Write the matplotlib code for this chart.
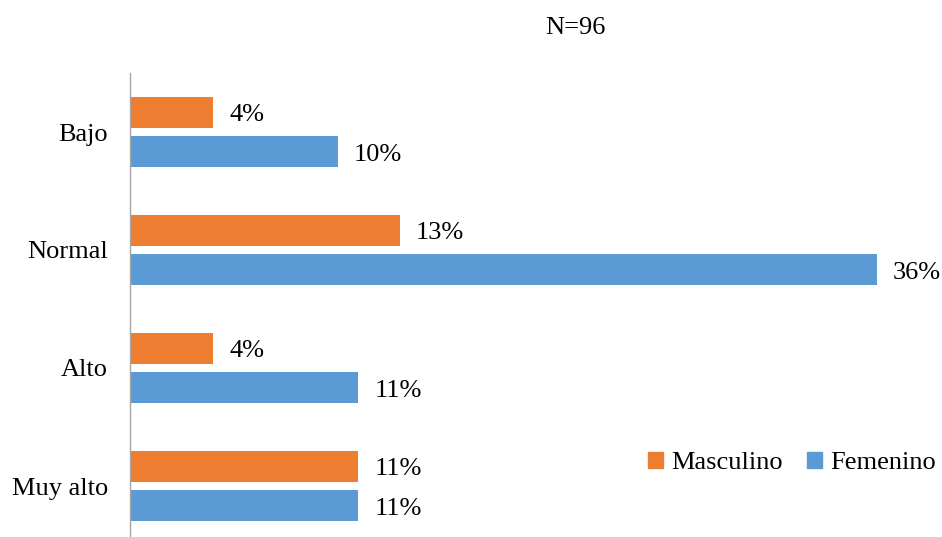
import matplotlib
matplotlib.use("Agg")
import matplotlib.pyplot as plt
import numpy as np
from matplotlib.patches import Patch

categories = ["Bajo", "Normal", "Alto", "Muy alto"]
masculino = [4, 13, 4, 11]
femenino = [10, 36, 11, 11]
series_names = ["Masculino", "Femenino"]
title_text = "N=96"

ORANGE = "#ED7D31"
BLUE = "#5B9BD5"

plt.rcParams["font.family"] = ["Liberation Serif", "DejaVu Serif"]
FS = 19

W, H = 942, 537
fig = plt.figure(figsize=(W / 100, H / 100), dpi=100)

# axes placed in pixel terms: left spine at x=130, category band 118 px
left_px, top_px, band_px, width_px = 130, 73, 118, 800
ax = fig.add_axes([left_px / W, 1 - (top_px + 4 * band_px) / H,
                   width_px / W, 4 * band_px / H])

px_per_unit = 747 / 36
ax.set_xlim(0, width_px / px_per_unit)
ax.set_ylim(3.5, -0.5)

y = np.arange(len(categories))
off = 0.167
h = 0.262
ax.barh(y - off, masculino, height=h, color=ORANGE, label=series_names[0])
ax.barh(y + off, femenino, height=h, color=BLUE, label=series_names[1])

gap = 16 / px_per_unit
dy = 0.025
for yi, v in zip(y - off, masculino):
    ax.text(v + gap, yi + dy, f"{v}%", va="center", ha="left", fontsize=FS)
for yi, v in zip(y + off, femenino):
    ax.text(v + gap, yi + dy, f"{v}%", va="center", ha="left", fontsize=FS)

ax.set_yticks(y)
ax.set_yticklabels(categories, fontsize=FS)
ax.tick_params(axis="y", length=0, pad=16)
ax.set_xticks([])
for s in ["top", "right", "bottom"]:
    ax.spines[s].set_visible(False)
ax.spines["left"].set_color("#A6A6A6")
ax.spines["left"].set_linewidth(1.0)

fig.text(575 / W, 1 - 28 / H, title_text, ha="center", va="center", fontsize=FS)

handles = [Patch(color=ORANGE), Patch(color=BLUE)]
fig.legend(handles, series_names, loc="center", ncol=2,
           bbox_to_anchor=(792 / W, 1 - 463 / H), frameon=False,
           fontsize=FS, handlelength=0.55, handleheight=0.55,
           handletextpad=0.3, columnspacing=0.95, borderpad=0)

fig.savefig("out.png", dpi=100)
